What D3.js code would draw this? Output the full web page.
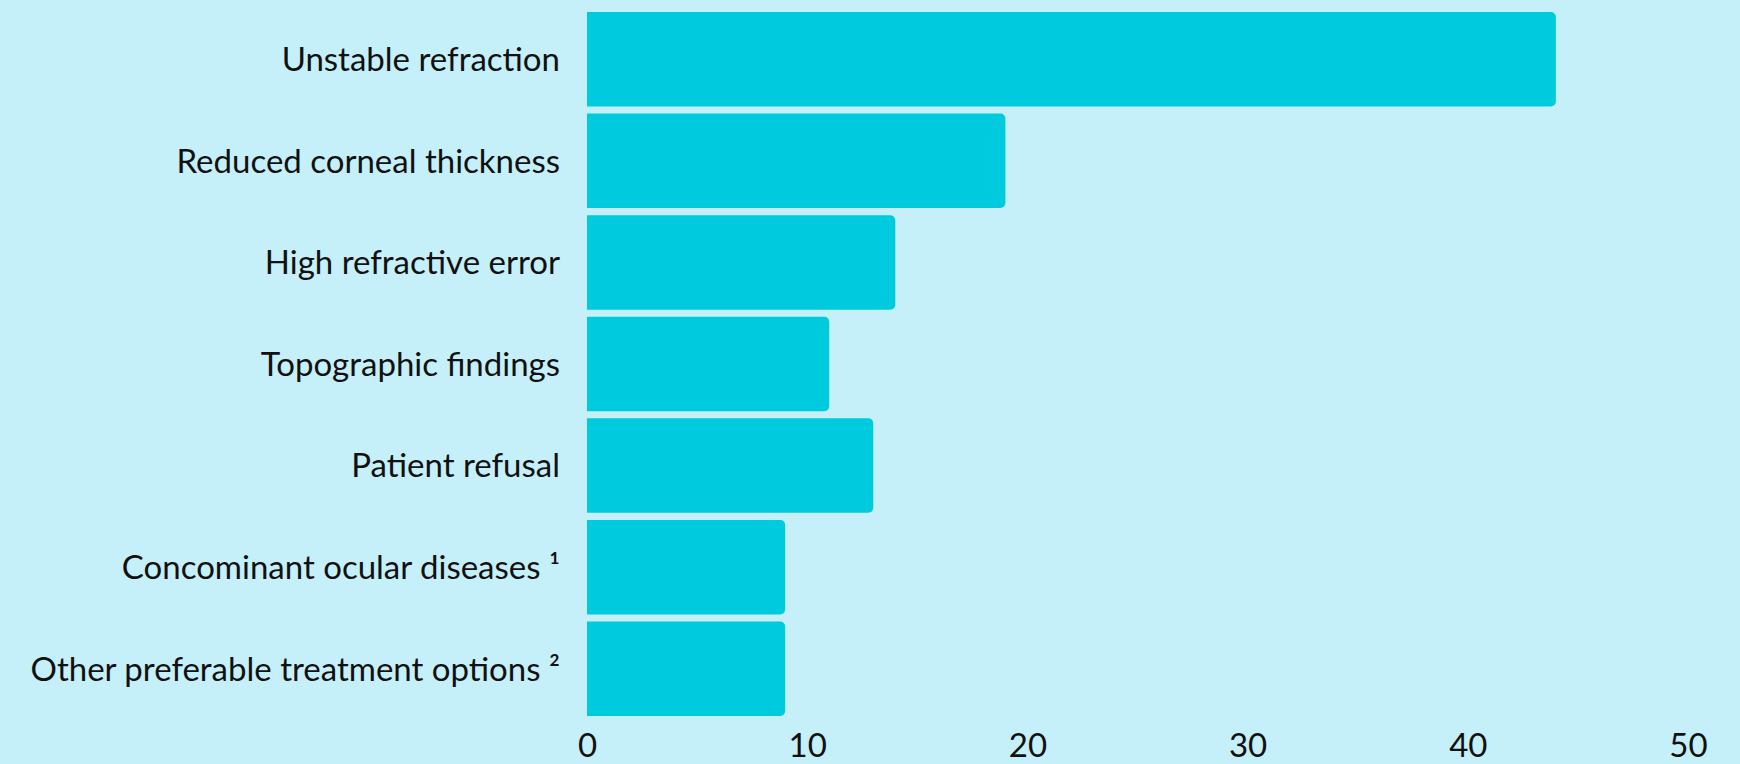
<!DOCTYPE html>
<html>
<head>
<meta charset="utf-8">
<script src="https://cdn.jsdelivr.net/npm/d3@7"></script>
<style>
  body { margin: 0; background: #c5f0f9; }
  svg { display: block; }
  text { font-family: Lato, "Open Sans", sans-serif; fill: #111; }
</style>
</head>
<body>
<div id="chart"></div>
<script>
// categories and counts, top to bottom
const categories = [
  "Unstable refraction",
  "Reduced corneal thickness",
  "High refractive error",
  "Topographic findings",
  "Patient refusal",
  "Concominant ocular diseases \u00b9",
  "Other preferable treatment options \u00b2"
];
const counts = [44, 19, 14, 11, 13, 9, 9];
const xTicks = [0, 10, 20, 30, 40, 50];

const width = 1740, height = 764;
const margin = {top: 12, right: 52, bottom: 48, left: 587};

const svg = d3.select("#chart")
              .append("svg")
                .attr("width", width)
                .attr("height", height);

svg.append("rect")
   .attr("width", width)
   .attr("height", height)
   .attr("fill", "#c5f0f9");

const x = d3.scaleLinear()
            .domain([0, 50])
            .range([margin.left, width - margin.right]);

const y = d3.scaleBand()
            .domain(categories)
            .range([margin.top, height - margin.bottom])
            .paddingInner(0.07)
            .paddingOuter(0);

// bar with rounded right end only
function barPath(x0, x1, y0, h, r) {
  const p = d3.path();
  p.moveTo(x0, y0);
  p.lineTo(x1 - r, y0);
  p.arcTo(x1, y0, x1, y0 + r, r);
  p.lineTo(x1, y0 + h - r);
  p.arcTo(x1, y0 + h, x1 - r, y0 + h, r);
  p.lineTo(x0, y0 + h);
  p.closePath();
  return p.toString();
}

svg.append("g")
   .selectAll("path")
   .data(categories)
   .join("path")
     .attr("fill", "#00cadd")
     .attr("d", (d, i) => barPath(x(0), x(counts[i]), y(d), y.bandwidth(), 5));

// category labels
svg.append("g")
   .selectAll("text")
   .data(categories)
   .join("text")
     .attr("x", margin.left - 27)
     .attr("y", d => y(d) + y.bandwidth() / 2)
     .attr("dy", "0.36em")
     .attr("text-anchor", "end")
     .style("font-size", "33px")
     .text(d => d);

// x axis, labels only
const xAxis = svg.append("g")
   .attr("transform", `translate(0, ${height - 31})`)
   .call(d3.axisBottom(x).tickValues(xTicks).tickSize(0).tickPadding(0));

xAxis.select(".domain").remove();
xAxis.selectAll("text")
     .attr("dy", "0.72em")
     .attr("y", 0)
     .style("font-size", "33px")
     .style("font-family", "Lato, 'Open Sans', sans-serif")
     .attr("fill", "#111");
</script>
</body>
</html>
